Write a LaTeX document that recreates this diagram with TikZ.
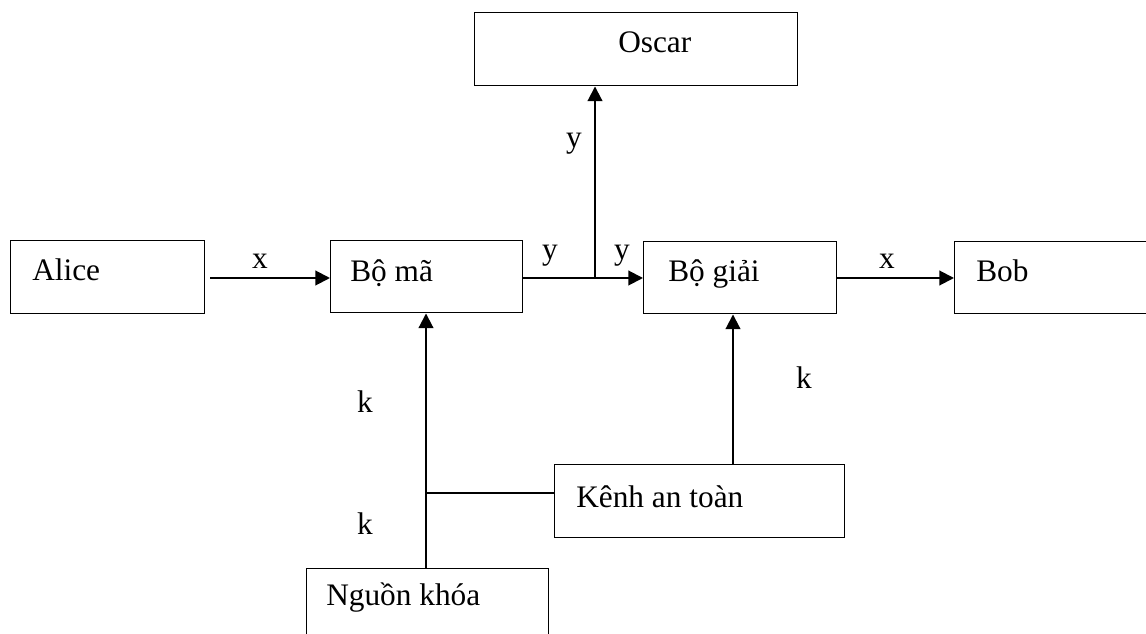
\documentclass[tikz,border=0pt]{standalone}
\usepackage{fontspec}
\setmainfont{Liberation Serif}
\usetikzlibrary{arrows.meta}
\begin{document}
\begin{tikzpicture}[x=0.75pt,y=-0.75pt,
  box/.style={draw,line width=1.1pt,rectangle,inner sep=0pt},
  txt/.style={anchor=base west,inner sep=0pt,font=\fontsize{23.5}{28}\selectfont},
  lbl/.style={anchor=base,inner sep=0pt,font=\fontsize{23.5}{28}\selectfont},
  conn/.style={line width=1.5pt},
  arr/.style={conn,-{Triangle[length=11pt,width=11pt]}}]
\useasboundingbox (0,0) rectangle (1146,634);
\begin{scope}
\clip (0,0) rectangle (1146,634);
% boxes
\node[box,anchor=north west,minimum width=194*0.75pt,minimum height=73*0.75pt] (alice) at (10,240) {};
\node[box,anchor=north west,minimum width=192*0.75pt,minimum height=72*0.75pt] (boma) at (330,240) {};
\node[box,anchor=north west,minimum width=193*0.75pt,minimum height=72*0.75pt] (bogiai) at (643,241) {};
\node[box,anchor=north west,minimum width=200*0.75pt,minimum height=72*0.75pt] (bob) at (954,241) {};
\node[box,anchor=north west,minimum width=323*0.75pt,minimum height=73*0.75pt] (oscar) at (474,12) {};
\node[box,anchor=north west,minimum width=290*0.75pt,minimum height=73*0.75pt] (kenh) at (554,464) {};
\node[box,anchor=north west,minimum width=242*0.75pt,minimum height=90*0.75pt] (nguon) at (306,568) {};
% texts
\node[txt] (alicet) at (32,281) {Alice};
\node[txt] (bomat) at (350,282) {Bộ mã};
\node[txt] (bogiait) at (668,282) {Bộ giải};
\node[txt] (bobt) at (976,282) {Bob};
\node[txt] (oscart) at (618,53) {Oscar};
\node[txt] (kenht) at (576,507) {Kênh an toàn};
\node[txt] (nguont) at (326,605) {Nguồn khóa};
% connector points
\coordinate (j) at (595,278);
\coordinate (kj) at (426,493);
% connectors
\draw[arr,shorten <=3.5pt] (alice.east |- 0,278) -- (boma.west |- 0,278);
\draw[arr] (boma.east |- 0,278) -- (bogiai.west |- 0,278);
\draw[arr] (j) -- (j |- oscar.south);
\draw[arr] (bogiai.east |- 0,278) -- (bob.west |- 0,278);
\draw[arr] (kenh.north -| 733,0) -- (bogiai.south -| 733,0);
\draw[arr] (nguon.north -| kj) -- (boma.south -| kj);
\draw[conn,line width=1.1pt] (kenh.west |- kj) -- (kj);
% labels
\node[lbl] (lx1) at (260,269) {x};
\node[lbl] (ly1) at (550,260) {y};
\node[lbl] (ly2) at (622,260) {y};
\node[lbl] (ly3) at (574,148) {y};
\node[lbl] (lx2) at (887,269) {x};
\node[lbl] (lk1) at (365,413) {k};
\node[lbl] (lk2) at (365,534) {k};
\node[lbl] (lk3) at (804,389) {k};
\end{scope}
\end{tikzpicture}
\end{document}
